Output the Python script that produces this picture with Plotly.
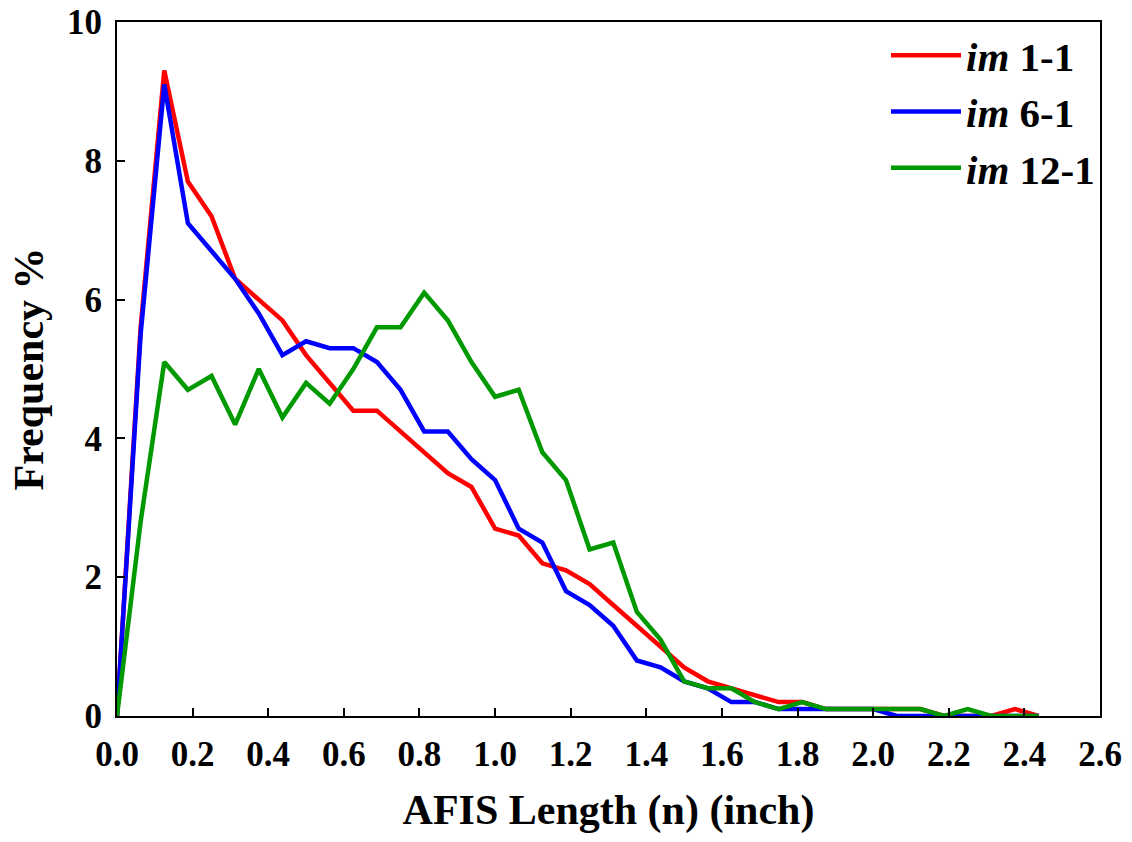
import plotly.graph_objects as go

# x positions: lengths in 1/16 inch bins
length_inch = [i / 16 for i in range(40)]

im_1_1 = [0.0, 5.6, 9.3, 7.7, 7.2, 6.3, 6.0, 5.7, 5.2, 4.8, 4.4, 4.4, 4.1, 3.8, 3.5, 3.3,
          2.7, 2.6, 2.2, 2.1, 1.9, 1.6, 1.3, 1.0, 0.7, 0.5, 0.4, 0.3, 0.2, 0.2, 0.1, 0.1,
          0.1, 0.1, 0.1, 0.0, 0.0, 0.0, 0.1, 0.0]
im_6_1 = [0.0, 5.5, 9.1, 7.1, 6.7, 6.3, 5.8, 5.2, 5.4, 5.3, 5.3, 5.1, 4.7, 4.1, 4.1, 3.7,
          3.4, 2.7, 2.5, 1.8, 1.6, 1.3, 0.8, 0.7, 0.5, 0.4, 0.2, 0.2, 0.1, 0.1, 0.1, 0.1,
          0.1, 0.0, 0.0, 0.0, 0.0, 0.0, 0.0, 0.0]
im_12_1 = [0.0, 2.8, 5.1, 4.7, 4.9, 4.2, 5.0, 4.3, 4.8, 4.5, 5.0, 5.6, 5.6, 6.1, 5.7, 5.1,
           4.6, 4.7, 3.8, 3.4, 2.4, 2.5, 1.5, 1.1, 0.5, 0.4, 0.4, 0.2, 0.1, 0.2, 0.1, 0.1,
           0.1, 0.1, 0.1, 0.0, 0.1, 0.0, 0.0, 0.0]

series = [
    ("<b><i>im</i> 1-1</b>", im_1_1, "#ff0000"),
    ("<b><i>im</i> 6-1</b>", im_6_1, "#0000ff"),
    ("<b><i>im</i> 12-1</b>", im_12_1, "#009900"),
]

x_ticks = [round(0.2 * i, 1) for i in range(14)]
y_ticks = [0, 2, 4, 6, 8, 10]

fig = go.Figure()
for name, vals, color in series:
    fig.add_trace(go.Scatter(x=length_inch, y=vals, mode="lines", name=name,
                             line=dict(color=color, width=4.5)))

font_family = "Liberation Serif"
fig.update_layout(
    width=1132, height=842,
    margin=dict(l=117, r=32, t=22, b=126, autoexpand=False),
    plot_bgcolor="white", paper_bgcolor="white",
    font=dict(family=font_family, color="black"),
    showlegend=True,
    legend=dict(x=1.0, y=1.0, xanchor="right", yanchor="top",
                font=dict(size=41, family=font_family, color="black"),
                bgcolor="rgba(0,0,0,0)", itemwidth=70, tracegroupgap=0),
)
fig.update_xaxes(
    range=[0, 2.6], tickvals=x_ticks, tickformat=".1f", automargin=False,
    ticks="inside", ticklen=8, tickwidth=2, tickcolor="black",
    showline=True, linewidth=2, linecolor="black", mirror=True,
    showgrid=False, zeroline=False, ticklabelstandoff=6,
    tickfont=dict(size=35, family=font_family, color="black", weight="bold"),
    title=dict(text="<b>AFIS Length (n) (inch)</b>", font=dict(size=42, family=font_family), standoff=22),
)
fig.update_yaxes(
    range=[0, 10], tickvals=y_ticks, automargin=False,
    ticks="inside", ticklen=8, tickwidth=2, tickcolor="black",
    showline=True, linewidth=2, linecolor="black", mirror=True,
    showgrid=False, zeroline=False, ticklabelstandoff=6,
    tickfont=dict(size=35, family=font_family, color="black", weight="bold"),
    title=dict(text="<b>Frequency %</b>", font=dict(size=42, family=font_family), standoff=10),
)

fig.write_html("out.html")
